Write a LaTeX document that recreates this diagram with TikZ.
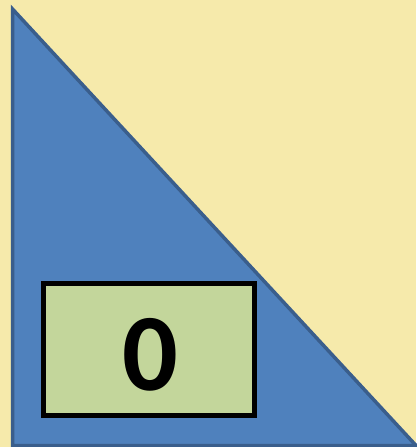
\documentclass[tikz,border=0pt]{standalone}
\usepackage{fontspec}
\setmainfont{Carlito}
\definecolor{paleyellow}{HTML}{F6EAAB}
\definecolor{triblue}{HTML}{4F81BD}
\definecolor{triedge}{HTML}{3A5E8C}
\definecolor{boxgreen}{HTML}{C3D69B}
\begin{document}
\begin{tikzpicture}[x=1pt, y=-1pt, line join=miter, line cap=butt]
				\fill[paleyellow] (0,0) rectangle (416,447);
				\useasboundingbox (0,0) rectangle (416,447);
				\path
				(12.5,9) coordinate (T)
				(12.5,445.5) coordinate (L)
				(416,445.5) coordinate (R)
				;
				\draw[triedge, fill=triblue, line width=3.5pt] (T)--(L)--(R)--cycle;
				\node[draw=black, fill=boxgreen, line width=5pt, minimum width=211pt, minimum height=132pt, inner sep=0pt] (box) at (149,349.5) {};
				\node[inner sep=0pt, font=\fontsize{110}{110}\selectfont\bfseries] (zero) at (150,355) {0};
			\end{tikzpicture}
\end{document}
